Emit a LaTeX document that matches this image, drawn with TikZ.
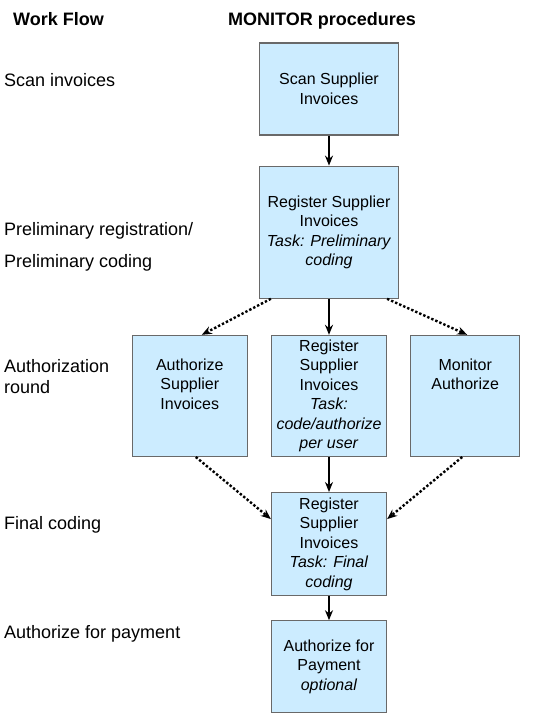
\documentclass[tikz,border=0pt]{standalone}
\usepackage{fontspec}
\setmainfont{Liberation Sans}
\usepackage{tikz}
\usetikzlibrary{arrows.meta,calc,positioning,shapes}
\tikzset{
  procnode/.style = {draw=box_line, fill=box_fill, line width=1.2pt, align=center,
  inner sep=2pt, text=black, font=\fontsize{16}{19.5}\selectfont},
  flowlabel/.style = {anchor=base west, inner sep=0pt, font=\fontsize{18}{21}\selectfont},
  headlabel/.style = {anchor=base west, inner sep=0pt, font=\fontsize{18}{21}\selectfont\bfseries}
}
\definecolor{box_fill}{RGB}{204, 236, 255}
\definecolor{box_line}{RGB}{105, 105, 105}

\begin{document}
\begin{tikzpicture}[x=1pt, y=-1pt, ->, >={Stealth[length=10pt,width=8pt]},
            solid_arrow/.style={line width=2pt},
            dot_arrow/.style={line width=2.4pt, dotted}]
        \useasboundingbox (0,0) rectangle (543,720);
        % column heads
        \node [headlabel] (wf) at (13,25) {Work Flow};
        \node [headlabel, anchor=base] (mp) at (322,25) {MONITOR procedures};
        % work flow steps
        \node [flowlabel] (s1) at (4,86) {Scan invoices};
        \node [flowlabel] (s2a) at (4,235) {Preliminary registration/};
        \node [flowlabel] (s2b) at (4,267.5) {Preliminary coding};
        \node [flowlabel] (s3a) at (4,372.5) {Authorization};
        \node [flowlabel] (s3b) at (4,393.5) {round};
        \node [flowlabel] (s4) at (4,529.5) {Final coding};
        \node [flowlabel] (s5) at (4,638.5) {Authorize for payment};
        % procedures
        \node [procnode, minimum width=139pt, minimum height=92pt] (scan) at (329,89) {Scan Supplier\\Invoices};
        \node [procnode, minimum width=139pt, minimum height=132pt, below=30pt of scan] (prelim)
            {Register Supplier\\Invoices\\\textit{Task: Preliminary}\\\textit{coding}};
        \node [procnode, minimum width=115pt, minimum height=121pt, below=36pt of prelim] (mid)
            {Register\\Supplier\\Invoices\\\textit{Task:}\\\textit{code/authorize}\\\textit{per user}};
        \node [procnode, minimum width=115pt, minimum height=121pt, left=23pt of mid] (auth)
            {Authorize\\Supplier\\Invoices\\[4pt]\mbox{}};
        \node [procnode, minimum width=109pt, minimum height=121pt, right=23pt of mid] (mon)
            {Monitor\\Authorize\\\mbox{}\\[4pt]\mbox{}};
        \node [procnode, minimum width=115pt, minimum height=103pt, below=35pt of mid] (final)
            {Register\\Supplier\\Invoices\\\textit{Task: Final}\\\textit{coding}};
        \node [procnode, minimum width=115pt, minimum height=92pt, below=24pt of final] (pay)
            {Authorize for\\Payment\\\textit{optional}};
        % connectors
        \draw [solid_arrow] (scan) -- (prelim);
        \draw [solid_arrow] (prelim) -- (mid);
        \draw [solid_arrow] (mid) -- (final);
        \draw [solid_arrow] (final) -- (pay);
        \draw [dot_arrow] ($(prelim.south west)+(12,0)$) -- ($(auth.north)+(12,0)$);
        \draw [dot_arrow] ($(prelim.south east)+(-12,0)$) -- ($(mon.north)+(2,0)$);
        \draw [dot_arrow] ($(auth.south)+(6,0)$) -- ($(final.west)+(0,-25)$);
        \draw [dot_arrow] ($(mon.south)+(-3,0)$) -- ($(final.east)+(0,-25)$);
\end{tikzpicture}
\end{document}
